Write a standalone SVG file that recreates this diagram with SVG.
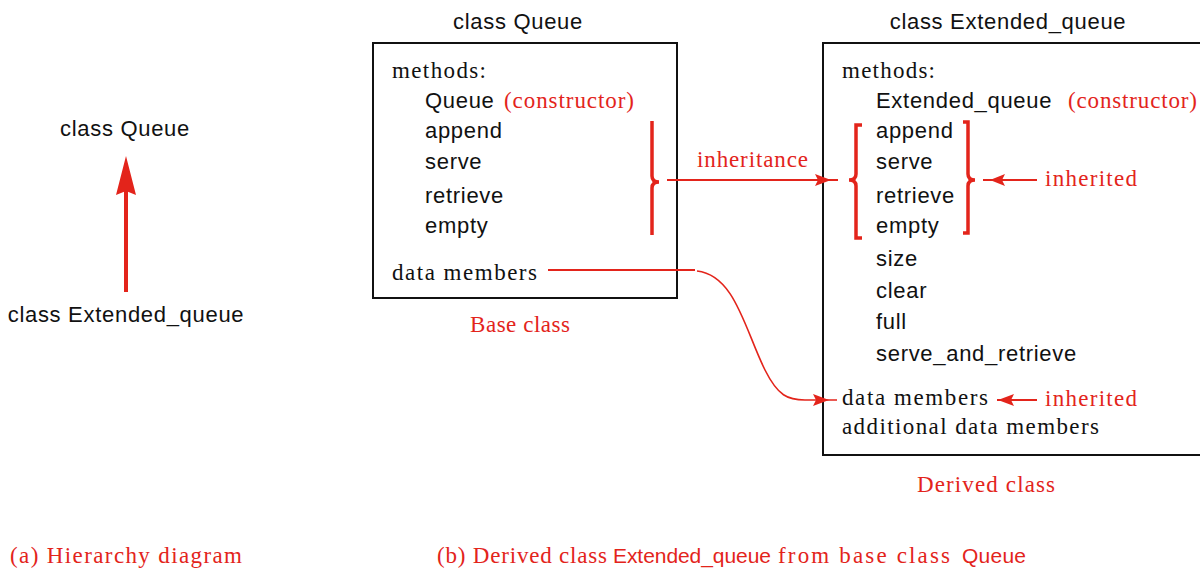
<svg xmlns="http://www.w3.org/2000/svg" width="1200" height="573" viewBox="0 0 1200 573">
<style>
.sans{font-family:"Liberation Sans",Arial,sans-serif;font-size:22px;letter-spacing:0.7px;fill:#111}
.serif{font-family:"Liberation Serif","Times New Roman",serif;font-size:23px;fill:#111}
.red{fill:#e3241b}
.box{fill:none;stroke:#111;stroke-width:2}
.rl{fill:none;stroke:#e3241b;stroke-width:2}
.brace{fill:none;stroke:#e3241b;stroke-width:3.5;stroke-linejoin:miter}
.head{fill:#e3241b;stroke:none}
.cap{font-size:21px;letter-spacing:0px}
</style>
<rect width="1200" height="573" fill="#fff"/>

<g id="hier-queue"><text class="sans" x="125" y="136" text-anchor="middle">class Queue</text></g>
<g id="hier-extended"><text class="sans" x="126" y="322" text-anchor="middle">class Extended_queue</text></g>

<g id="queue">
<text class="sans" x="518" y="29" text-anchor="middle">class Queue</text>
<rect class="box" x="373" y="43" width="304" height="255"/>
<text class="serif" x="392" y="78" textLength="94" lengthAdjust="spacing">methods:</text>
<text class="sans" x="425" y="108">Queue</text>
<text class="serif red" x="504" y="108" textLength="130" lengthAdjust="spacing">(constructor)</text>
<text class="sans" x="425" y="138">append</text>
<text class="sans" x="425" y="169">serve</text>
<text class="sans" x="425" y="203">retrieve</text>
<text class="sans" x="425" y="233">empty</text>
<text class="serif" x="392" y="280" textLength="145" lengthAdjust="spacing">data members</text>
<path class="brace" d="M652,121 L652,176 Q652,182 659,182 Q652,182 652,188 L652,235"/>
<text class="serif red" x="470" y="332" textLength="100" lengthAdjust="spacing">Base class</text>
</g>

<g id="extended_queue">
<text class="sans" x="1008" y="29" text-anchor="middle">class Extended_queue</text>
<rect class="box" x="823" y="43" width="400" height="412"/>
<text class="serif" x="842" y="78" textLength="93" lengthAdjust="spacing">methods:</text>
<text class="sans" x="876" y="108">Extended_queue</text>
<text class="serif red" x="1068" y="108" textLength="129" lengthAdjust="spacing">(constructor)</text>
<text class="sans" x="876" y="138">append</text>
<text class="sans" x="876" y="169">serve</text>
<text class="sans" x="876" y="203">retrieve</text>
<text class="sans" x="876" y="233">empty</text>
<text class="sans" x="876" y="266">size</text>
<text class="sans" x="876" y="298">clear</text>
<text class="sans" x="876" y="329">full</text>
<text class="sans" x="876" y="361">serve_and_retrieve</text>
<text class="serif" x="842" y="405" textLength="146" lengthAdjust="spacing">data members</text>
<text class="serif" x="842" y="434" textLength="257" lengthAdjust="spacing">additional data members</text>
<path class="brace" d="M862,125 L856,125 L856,174 Q856,180 849,180 Q856,180 856,186 L856,238 L862,238"/>
<path class="brace" d="M963,122 L968,122 L968,174 Q968,180 975,180 Q968,180 968,186 L968,233 L963,233"/>
<text class="serif red" x="1045" y="186" textLength="92" lengthAdjust="spacing">inherited</text>
<text class="serif red" x="1045" y="406" textLength="92" lengthAdjust="spacing">inherited</text>
<text class="serif red" x="917" y="492" textLength="138" lengthAdjust="spacing">Derived class</text>
</g>

<g id="captions">
<text class="serif red" x="10" y="563" textLength="232" lengthAdjust="spacing">(a) Hierarchy diagram</text>
<text class="serif red" x="437" y="563" textLength="170" lengthAdjust="spacing">(b) Derived class</text>
<text class="sans red cap" x="613" y="563" textLength="158" lengthAdjust="spacing">Extended_queue</text>
<text class="serif red" x="778" y="563" textLength="172" lengthAdjust="spacing">from base class</text>
<text class="sans red cap" x="962" y="563" textLength="64" lengthAdjust="spacing">Queue</text>
</g>

<g id="connectors">
<line x1="126" y1="292" x2="126" y2="190" stroke="#e3241b" stroke-width="4"/>
<polygon class="head" points="126,156 136,195 126,191 116,195"/>
<line class="rl" x1="667" y1="180" x2="838" y2="180"/>
<polygon class="head" points="831,180 815,174 818,180 815,186"/>
<text class="serif red" x="697" y="167" textLength="111" lengthAdjust="spacing">inheritance</text>
<line class="rl" x1="983" y1="180" x2="1037" y2="180"/>
<polygon class="head" points="990,180 1005,174 1002,180 1005,186"/>
<line class="rl" x1="997" y1="400" x2="1037" y2="400"/>
<polygon class="head" points="998,400 1014,394 1011,400 1014,406"/>
<line class="rl" x1="548" y1="270" x2="695" y2="270"/>
<path class="rl" style="stroke-width:1.6" d="M697,271 C735,275 745,330 765,370 C778,396 788,400 805,400 L837,400"/>
<polygon class="head" points="829,400 813,394 816,400 813,406"/>
</g>
</svg>
